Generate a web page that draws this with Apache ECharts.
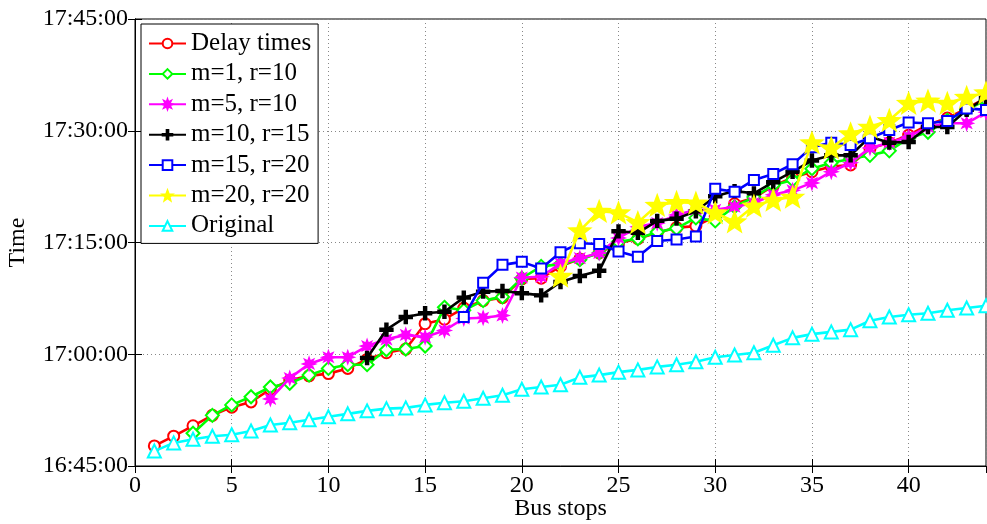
<!DOCTYPE html>
<html><head><meta charset="utf-8">
<script src="https://cdn.jsdelivr.net/npm/echarts@6/dist/echarts.min.js"></script>
<style>html,body{margin:0;padding:0;background:#fff}#c{width:987px;height:524px}</style>
</head><body><div id="c"></div>
<script>
// Bus stop index (x axis)
const stops = [1,2,3,4,5,6,7,8,9,10,11,12,13,14,15,16,17,18,19,20,21,22,23,24,25,26,27,28,29,30,31,32,33,34,35,36,37,38,39,40,41,42,43,44];
// Values: minutes after 16:45:00
const delayTimes = [2.7,4.0,5.4,6.8,7.9,8.6,10.3,11.5,12.1,12.4,13.1,14.3,15.2,15.7,19.1,19.7,21.2,22.2,22.6,25.1,25.2,26.8,27.8,28.6,29.9,30.5,31.3,32.0,32.2,33.5,35.2,36.0,37.6,38.7,39.5,40.2,40.4,42.6,43.4,44.4,45.8,46.7,48.0,49.4];
const m1r10 = [null,null,4.4,6.8,8.2,9.3,10.6,11.1,12.2,13.1,13.6,13.6,15.6,15.7,16.1,21.3,20.9,22.2,22.7,25.2,26.8,27.1,27.7,28.6,30.1,30.5,31.4,31.9,33.3,32.9,34.8,36.1,37.7,38.4,39.9,40.7,41.2,41.7,42.3,44.0,44.8,46.4,47.8,49.1];
const m5r10 = [null,null,null,null,null,null,9.0,11.8,13.7,14.6,14.6,16.1,17.0,17.6,17.3,18.2,19.8,19.9,20.2,25.3,25.4,27.2,27.9,28.6,30.6,32.1,32.6,33.7,34.4,34.4,34.8,35.3,36.4,37.0,38.0,39.5,40.7,42.7,43.4,44.2,45.5,46.0,46.0,47.5];
const m10r15 = [null,null,null,null,null,null,null,null,null,null,null,14.5,18.3,20.0,20.5,20.7,22.6,23.4,23.5,23.2,22.9,24.7,25.5,26.2,31.5,31.3,32.9,33.2,34.2,36.2,36.9,36.6,38.1,39.5,41.0,41.7,41.7,44.2,43.4,43.5,45.5,45.5,47.8,49.4];
const m15r20 = [null,null,null,null,null,null,null,null,null,null,null,null,null,null,null,null,20.0,24.6,27.0,27.4,26.5,28.7,29.9,29.8,28.8,28.1,30.2,30.4,30.8,37.2,36.8,38.4,39.2,40.5,42.8,43.4,43.1,44.0,45.1,46.1,46.0,46.3,48.0,47.8];
const m20r20 = [null,null,null,null,null,null,null,null,null,null,null,null,null,null,null,null,null,null,null,null,null,25.5,31.6,34.2,34.0,32.7,35.0,35.4,35.3,34.0,32.8,34.9,35.7,36.1,43.4,42.7,44.6,45.5,46.4,48.7,49.0,48.7,49.5,50.1];
const original = [2.0,3.1,3.6,4.0,4.2,4.7,5.5,5.8,6.2,6.6,7.0,7.4,7.7,7.8,8.2,8.5,8.7,9.1,9.5,10.3,10.6,10.9,11.9,12.2,12.6,12.9,13.3,13.6,14.0,14.6,14.9,15.2,16.2,17.2,17.7,18.0,18.3,19.5,20.0,20.3,20.5,20.9,21.2,21.5];
const seriesNames = ['Delay times','m=1, r=10','m=5, r=10','m=10, r=15','m=15, r=20','m=20, r=20','Original'];
const yTickLabels = ['16:45:00','17:00:00','17:15:00','17:30:00','17:45:00'];
const xTickStep = 5;
const yTickStep = 15;

function starPath(n, rOut, rIn) {
  const pts = [];
  for (let i = 0; i < 2 * n; i++) {
    const r = i % 2 ? rIn : rOut;
    const a = -Math.PI / 2 + i * Math.PI / n;
    pts.push((r * Math.cos(a)).toFixed(3) + ',' + (r * Math.sin(a)).toFixed(3));
  }
  return 'path://M' + pts.join('L') + 'Z';
}
const plusPath = 'path://M-0.17,-1L0.17,-1L0.17,-0.17L1,-0.17L1,0.17L0.17,0.17L0.17,1L-0.17,1L-0.17,0.17L-1,0.17L-1,-0.17L-0.17,-0.17Z';
const asteriskPath = starPath(8, 1, 0.5);
const pentagramPath = starPath(5, 1, 0.42);

const styles = [
  {color:'#ff0000', symbol:'emptyCircle', size:11},
  {color:'#00ff00', symbol:'emptyDiamond', size:13},
  {color:'#ff00ff', symbol:asteriskPath, size:10},
  {color:'#000000', symbol:plusPath, size:12},
  {color:'#0000ff', symbol:'emptyRect', size:10},
  {color:'#ffff00', symbol:pentagramPath, size:19},
  {color:'#00ffff', symbol:'emptyTriangle', size:13}
];
const allData = [delayTimes, m1r10, m5r10, m10r15, m15r20, m20r20, original];

const font = 'Liberation Serif';
const series = allData.map((vals, i) => ({
  name: seriesNames[i],
  type: 'line',
  data: stops.map((s, k) => [s, vals[k]]).filter(p => p[1] !== null),
  symbol: styles[i].symbol,
  symbolSize: styles[i].size,
  symbolKeepAspect: true,
  showAllSymbol: true,
  lineStyle: {color: styles[i].color, width: 2.6},
  itemStyle: {color: styles[i].color, borderColor: styles[i].color, borderWidth: 2.4},
  emphasis: {disabled: true},
  animation: false,
  z: 2 + i
}));

const chart = echarts.init(document.getElementById('c'), null, {renderer: 'canvas'});
chart.setOption({
  backgroundColor: '#fff',
  animation: false,
  grid: {left: 135, right: 1, top: 19, bottom: 58, outerBoundsMode: 'none', containLabel: false,
    show: true, borderColor: '#000', borderWidth: 1, backgroundColor: 'transparent'},
  legend: {
    orient: 'vertical', left: 141, top: 24,
    data: seriesNames,
    itemWidth: 37, itemHeight: 12, itemGap: 5.4,
    padding: [7, 7, 5, 7],
    backgroundColor: '#fff', borderColor: '#000', borderWidth: 1, borderRadius: 0,
    textStyle: {fontFamily: font, fontSize: 25, color: '#000', lineHeight: 24},
    selectedMode: false, z: 20
  },
  xAxis: [{
    type: 'value', min: 0, max: 44, interval: xTickStep,
    name: 'Bus stops', nameLocation: 'middle', nameGap: 31, nameMoveOverlap: false,
    nameTextStyle: {fontFamily: font, fontSize: 24, color: '#000'},
    axisLine: {show: true, lineStyle: {color: '#000', width: 1}},
    axisTick: {show: true, inside: true, length: 7, lineStyle: {color: '#000'}},
    axisLabel: {fontFamily: font, fontSize: 24, color: '#000', margin: 8, showMaxLabel: false},
    splitLine: {show: true, lineStyle: {type: [1, 3], color: '#888', width: 1}}
  }, {
    type: 'value', min: 0, max: 44, interval: xTickStep, position: 'top',
    axisLine: {show: true, lineStyle: {color: '#000'}},
    axisTick: {show: true, inside: true, length: 7, lineStyle: {color: '#000'}},
    axisLabel: {show: false}, splitLine: {show: false}
  }],
  yAxis: [{
    type: 'value', min: 0, max: 60, interval: yTickStep,
    name: 'Time', nameLocation: 'middle', nameGap: 105, nameMoveOverlap: false,
    nameTextStyle: {fontFamily: font, fontSize: 24, color: '#000'},
    axisLine: {show: true, lineStyle: {color: '#000', width: 1}},
    axisTick: {show: true, inside: true, length: 7, lineStyle: {color: '#000'}},
    axisLabel: {fontFamily: font, fontSize: 24, color: '#000', margin: 7,
      formatter: v => yTickLabels[Math.round(v / yTickStep)] || ''},
    splitLine: {show: true, lineStyle: {type: [1, 3], color: '#888', width: 1}}
  }, {
    type: 'value', min: 0, max: 60, interval: yTickStep, position: 'right',
    axisLine: {show: true, lineStyle: {color: '#000'}},
    axisTick: {show: true, inside: true, length: 7, lineStyle: {color: '#000'}},
    axisLabel: {show: false}, splitLine: {show: false}
  }],
  series: series
});
</script>
</body></html>
